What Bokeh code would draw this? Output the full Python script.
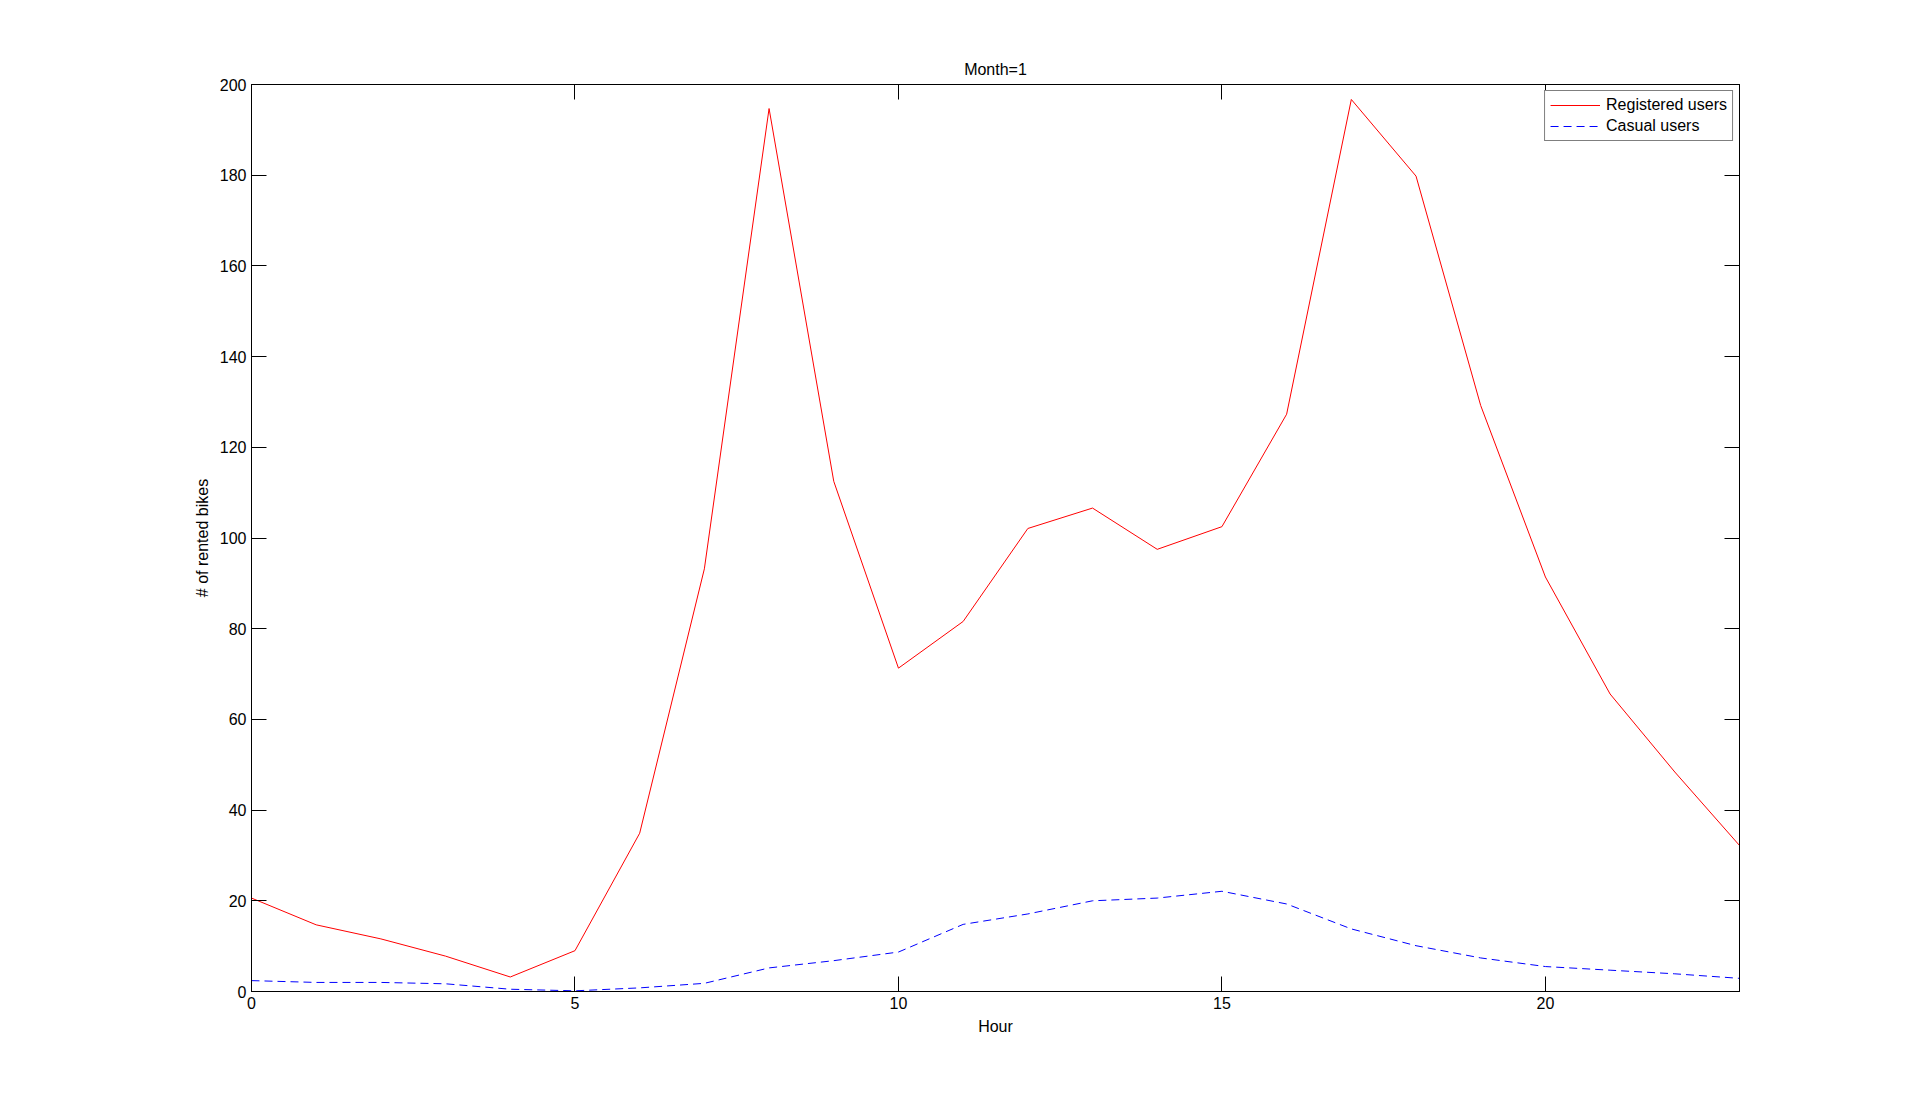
from bokeh.plotting import figure
from bokeh.models import LinearAxis, FixedTicker, Legend, LegendItem, Range1d, CustomJSTickFormatter
from bokeh.embed import file_html
from bokeh.resources import INLINE

hours = list(range(24))
registered = [20.6, 14.7, 11.6, 7.8, 3.2, 9.0, 34.9, 93.2, 194.7, 112.5, 71.3, 81.6,
              102.1, 106.6, 97.5, 102.5, 127.3, 196.7, 179.8, 129.2, 91.4, 65.6, 48.4, 32.2]
casual = [2.4, 2.0, 2.0, 1.7, 0.5, 0.15, 0.8, 1.8, 5.2, 6.8, 8.7, 14.8,
          17.1, 20.0, 20.6, 22.1, 19.3, 13.8, 10.1, 7.4, 5.5, 4.7, 3.9, 2.9]
x_ticks = [0, 5, 10, 15, 20]
y_ticks = list(range(0, 201, 20))
title_text = "Month=1"
x_label = "Hour"
y_label = "# of rented bikes"
series_names = ["Registered users", "Casual users"]

FONT = "Liberation Sans"
FS = "16px"

p = figure(frame_width=1488, frame_height=907,
           min_border_left=251, min_border_right=165,
           min_border_top=84, min_border_bottom=107,
           x_range=Range1d(0, 23), y_range=Range1d(0, 200),
           output_backend="svg", toolbar_location=None,
           title=title_text)
p.title.align = "center"
p.title.text_font = FONT
p.title.text_font_size = FS
p.title.text_font_style = "normal"
p.title.text_color = "black"
p.title.standoff = 14

p.grid.visible = False
p.outline_line_color = "black"
p.outline_line_width = 1
p.background_fill_color = "white"
p.border_fill_color = "white"

def style_axis(ax, ticks, labels=True):
    ax.ticker = FixedTicker(ticks=ticks)
    ax.major_tick_in = 15
    ax.major_tick_out = 0
    ax.minor_tick_line_color = None
    ax.axis_line_color = "black"
    ax.major_tick_line_color = "black"
    ax.major_label_text_font = FONT
    ax.major_label_text_color = "black"
    ax.major_label_text_font_size = FS
    ax.axis_label_text_font = FONT
    ax.axis_label_text_font_size = FS
    ax.axis_label_text_font_style = "normal"
    ax.axis_label_text_color = "black"
    if labels:
        ax.major_label_standoff = 5
    else:
        ax.formatter = CustomJSTickFormatter(code="return ''")
        ax.major_label_standoff = 0

style_axis(p.xaxis[0], x_ticks)
style_axis(p.yaxis[0], y_ticks)
p.xaxis[0].axis_label = x_label
p.xaxis[0].axis_label_standoff = 6
p.yaxis[0].axis_label = y_label
p.yaxis[0].axis_label_standoff = 6

top = LinearAxis()
style_axis(top, x_ticks, labels=False)
p.add_layout(top, "above")
right = LinearAxis()
style_axis(right, y_ticks, labels=False)
p.add_layout(right, "right")

r1 = p.line(hours, registered, line_color="#FF0000", line_width=1)
r2 = p.line(hours, casual, line_color="#0000FF", line_width=1, line_dash="8 5")

legend = Legend(items=[LegendItem(label=series_names[0], renderers=[r1]),
                       LegendItem(label=series_names[1], renderers=[r2])],
                location="top_right")
legend.label_text_font = FONT
legend.label_text_font_size = FS
legend.label_text_color = "black"
legend.border_line_color = "black"
legend.border_line_width = 1
legend.background_fill_color = "white"
legend.background_fill_alpha = 1
legend.margin = 6
legend.padding = 5
legend.spacing = 3
legend.label_height = 18
legend.glyph_height = 18
legend.glyph_width = 50
legend.label_standoff = 6
p.add_layout(legend)

open("out.html", "w").write(file_html(p, INLINE))
